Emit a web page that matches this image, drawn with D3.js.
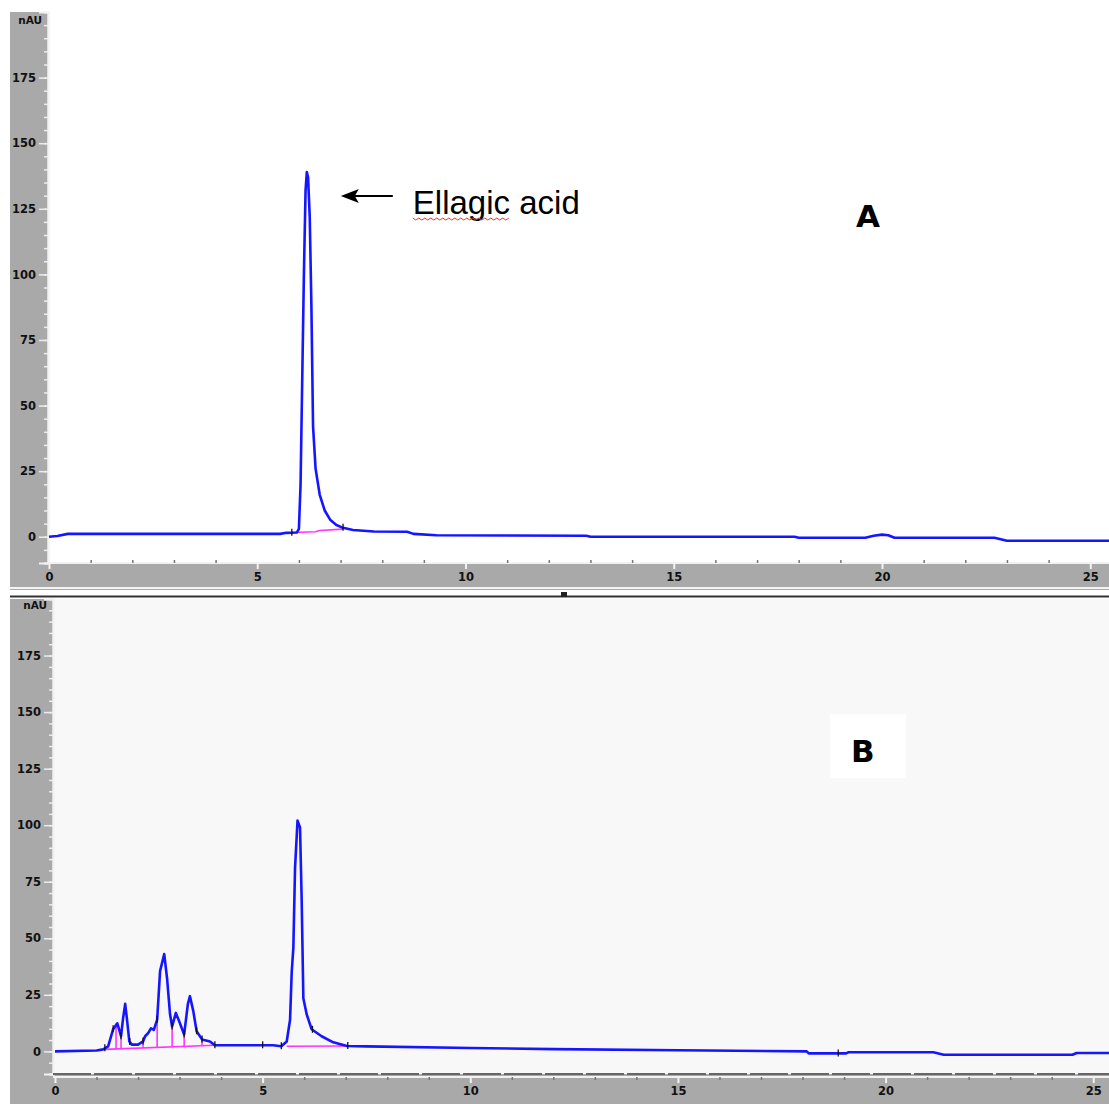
<!DOCTYPE html>
<html>
<head>
<meta charset="utf-8">
<script src="https://cdn.jsdelivr.net/npm/d3@7"></script>
<style>
  body { margin: 0; background: #fff; }
  svg { display: block; }
  .tick text { font-family: "DejaVu Sans", sans-serif; font-weight: bold; font-size: 11.5px; fill: #111; }
</style>
</head>
<body>
<svg id="chart" width="1109" height="1104"></svg>
<script>
// chromatogram A (standard) - time (min) / absorbance (mAU)
const timeA = [0, 0.2, 0.45, 5.55, 5.7, 5.95, 6.0, 6.04, 6.08, 6.12, 6.16, 6.19, 6.22, 6.26, 6.3, 6.34, 6.4, 6.5, 6.62, 6.75, 6.9, 7.06, 7.3, 7.8, 8.6, 8.75, 9.3, 12.9, 13.0, 17.9, 18.0, 19.6, 19.8, 20.0, 20.15, 20.3, 22.7, 23.0, 25.5];
const valA  = [0, 0.3, 1.1, 1.1, 1.5, 1.6, 3, 20, 60, 100, 132, 139, 137, 122, 88, 42, 26, 16, 10, 6.5, 4.5, 3.4, 2.6, 2.0, 1.9, 1.1, 0.6, 0.4, 0.0, 0.0, -0.4, -0.4, 0.4, 0.8, 0.6, -0.4, -0.4, -1.5, -1.5];
const baseTimeA = [5.83, 6.4, 6.5, 7.06];
const baseValA  = [1.6, 1.9, 2.4, 2.9];
const markA = [5.83, 7.06];

// chromatogram B (sample)
const timeB = [0, 1.0, 1.16, 1.28, 1.4, 1.5, 1.59, 1.64, 1.69, 1.73, 1.79, 1.85, 2.0, 2.12, 2.17, 2.24, 2.31, 2.38, 2.46, 2.53, 2.63, 2.7, 2.77, 2.82, 2.91, 2.99, 3.11, 3.2, 3.25, 3.33, 3.41, 3.54, 3.73, 3.85, 5.25, 5.45, 5.58, 5.66, 5.7, 5.74, 5.78, 5.84, 5.9, 5.94, 5.98, 6.06, 6.18, 6.42, 6.7, 7.03, 7.5, 10, 12, 15, 18.1, 18.15, 19.05, 19.1, 21.15, 21.4, 24.5, 24.6, 25.4];
const valB  = [0, 0.4, 0.9, 2.2, 9.8, 12.4, 6.7, 14.7, 21, 14.7, 4.4, 3, 3, 4.4, 6.7, 8, 10.2, 9.5, 14, 35.5, 43, 32, 16.4, 11, 17, 13.3, 7.5, 21, 24.4, 17.8, 8.9, 5.3, 4.4, 2.7, 2.7, 2.3, 4.4, 14, 35, 46, 81, 102, 99, 67, 23.5, 16.4, 9.8, 6.7, 4, 2.4, 2.2, 1.5, 1.0, 0.5, 0.0, -0.9, -0.9, -0.4, -0.4, -1.5, -1.5, -0.7, -0.7];
const baseTimeB1 = [1.2, 3.85];
const baseValB1  = [0.9, 2.7];
const dropB = [1.47, 1.59, 2.12, 2.46, 2.82, 3.11, 3.54];
const baseTimeB2 = [5.58, 7.05];
const baseValB2  = [2.3, 2.4];
const markB = [1.2, 1.4, 1.59, 1.8, 2.12, 2.46, 2.82, 3.11, 3.41, 3.54, 3.85, 5.0, 5.45, 6.2, 7.05, 18.86];

// axis ticks
const yTickLabels = [0, 25, 50, 75, 100, 125, 150, 175];
const yMinorTicks = d3.range(-10, 200, 5);
const xTickLabels = [0, 5, 10, 15, 20, 25];
const xMinorTicks = d3.range(0, 26, 1);

const svg = d3.select("#chart");
const gray = "#a9a9a9";
const blue = "#1515ff";
const pink = "#ff33ff";

function interp(ts, vs, t) {
    for (let i = 1; i < ts.length; i++) {
        if (t <= ts[i]) {
            const f = (t - ts[i - 1]) / (ts[i] - ts[i - 1]);
            return vs[i - 1] + f * (vs[i] - vs[i - 1]);
        }
    }
    return vs[vs.length - 1];
}

function drawPanel(p) {
    const g = svg.append("g");
    const x = d3.scaleLinear().domain([0, p.xMax]).range([p.x0, 1109]);
    const y = d3.scaleLinear().domain([-10, 200]).range([p.yBottom, p.yTop]);

    // frame
    g.append("rect").attr("x", 10).attr("y", p.yTop).attr("width", 1099).attr("height", p.bandBottom - p.yTop).attr("fill", gray);
    g.append("rect").attr("x", p.axisX).attr("y", p.yTop).attr("width", 1109 - p.axisX).attr("height", p.yBottom - p.yTop).attr("fill", p.bg);
    if (p.whiteBox) {
        g.append("rect").attr("x", p.whiteBox[0]).attr("y", p.whiteBox[1]).attr("width", p.whiteBox[2]).attr("height", p.whiteBox[3]).attr("fill", "#fff");
    }

    // y axis
    const yMinor = g.append("g").attr("transform", `translate(${p.axisX},0)`)
        .call(d3.axisLeft(y).tickValues(yMinorTicks).tickSize(4).tickFormat(""));
    const yMajor = g.append("g").attr("transform", `translate(${p.axisX},0)`)
        .call(d3.axisLeft(y).tickValues(yTickLabels).tickSize(9).tickPadding(3));
    [yMinor, yMajor].forEach(a => {
        a.select(".domain").attr("stroke", "#f2f2f2").attr("stroke-width", 2);
        a.selectAll(".tick line").attr("stroke", "#ececec").attr("stroke-width", 1.5);
    });
    g.append("text").attr("x", p.axisX - 6).attr("y", y(197)).attr("dy", "0.35em")
        .attr("text-anchor", "end").attr("font-family", "DejaVu Sans, sans-serif")
        .attr("font-weight", "bold").attr("font-size", 10.5).attr("fill", "#111").text("nAU");

    // x axis
    g.append("line").attr("x1", p.axisX).attr("x2", 1109).attr("y1", p.xLine).attr("y2", p.xLine)
        .attr("stroke", "#f2f2f2").attr("stroke-width", 2);
    if (p.darkEdge) {
        g.append("line").attr("x1", p.axisX).attr("x2", 1109).attr("y1", p.yBottom).attr("y2", p.yBottom)
            .attr("stroke", "#666").attr("stroke-width", 2).attr("stroke-dasharray", "38,3");
    }
    const xMinor = g.append("g").attr("transform", `translate(0,${p.xLine})`)
        .call(d3.axisTop(x).tickValues(xMinorTicks.filter(d => d % 5 !== 0)).tickSize(p.minorUp).tickFormat(""));
    xMinor.select(".domain").remove();
    xMinor.selectAll(".tick line").attr("stroke", "#777").attr("stroke-width", 1.5);
    const xMajor = g.append("g").attr("transform", `translate(0,${p.xLine})`)
        .call(d3.axisBottom(x).tickValues(xTickLabels).tickSize(6).tickPadding(p.labelPad));
    xMajor.select(".domain").remove();
    xMajor.selectAll(".tick line").attr("stroke", "#f2f2f2").attr("stroke-width", 2);

    // integration baselines
    const line = d3.line().x(d => x(d[0])).y(d => y(d[1]));
    p.bases.forEach(b => {
        g.append("path").datum(b[0].map((t, i) => [t, b[1][i]])).attr("d", line)
            .attr("fill", "none").attr("stroke", pink).attr("stroke-width", 1.6);
    });
    (p.drops || []).forEach(t => {
        const b = p.bases[0];
        g.append("line").attr("x1", x(t)).attr("x2", x(t))
            .attr("y1", y(interp(b[0], b[1], t))).attr("y2", y(interp(p.time, p.val, t)))
            .attr("stroke", pink).attr("stroke-width", 1.6);
    });

    // trace
    g.append("path").datum(p.time.map((t, i) => [t, p.val[i]])).attr("d", line)
        .attr("fill", "none").attr("stroke", blue).attr("stroke-width", 2.6).attr("stroke-linejoin", "round");

    // peak markers
    p.marks.forEach(t => {
        const v = y(interp(p.time, p.val, t));
        g.append("line").attr("x1", x(t)).attr("x2", x(t)).attr("y1", v - 4).attr("y2", v + 3)
            .attr("stroke", "#111").attr("stroke-width", 1.3);
    });

    // panel letter
    g.append("text").attr("x", p.letterX).attr("y", p.letterY)
        .attr("font-family", "DejaVu Sans, sans-serif").attr("font-weight", "bold")
        .attr("font-size", 31).attr("fill", "#000").text(p.letter);

    return { x, y, g };
}

const A = drawPanel({
    time: timeA, val: valA, xMax: 25.45, x0: 49, axisX: 48,
    yTop: 12, yBottom: 563, xLine: 563, bandBottom: 590, minorUp: 3, labelPad: 4,
    bg: "#ffffff", bases: [[baseTimeA, baseValA]], marks: markA,
    letter: "A", letterX: 856, letterY: 227
});

const B = drawPanel({
    time: timeB, val: valB, xMax: 25.38, x0: 55, axisX: 53,
    yTop: 599, yBottom: 1074, xLine: 1077, bandBottom: 1104, minorUp: -3, labelPad: 4, darkEdge: true,
    bg: "#f8f8f8", whiteBox: [830, 714, 76, 64], bases: [[baseTimeB1, baseValB1], [baseTimeB2, baseValB2]],
    drops: dropB, marks: markB, letter: "B", letterX: 851, letterY: 762
});

// separator between the panels
svg.append("line").attr("x1", 10).attr("x2", 1109).attr("y1", 588).attr("y2", 588).attr("stroke", "#f4f4f4").attr("stroke-width", 2);
svg.append("line").attr("x1", 10).attr("x2", 1109).attr("y1", 596.5).attr("y2", 596.5).attr("stroke", "#333").attr("stroke-width", 2);
svg.append("rect").attr("x", 561).attr("y", 592).attr("width", 6).attr("height", 5).attr("fill", "#222");

// annotation in A
const peakI = valA.indexOf(d3.max(valA));
const tipX = A.x(timeA[peakI]) + 34;
const tipY = A.y(valA[peakI]) + 24;
A.g.append("line").attr("x1", tipX + 12).attr("x2", tipX + 52).attr("y1", tipY).attr("y2", tipY)
    .attr("stroke", "#000").attr("stroke-width", 2);
A.g.append("path").attr("d", `M${tipX},${tipY} L${tipX + 18},${tipY - 7} L${tipX + 14},${tipY} L${tipX + 18},${tipY + 7} Z`)
    .attr("fill", "#000");
A.g.append("text").attr("x", tipX + 72).attr("y", tipY + 18)
    .attr("font-family", "Liberation Sans, Arial, sans-serif").attr("font-size", 33).attr("fill", "#000")
    .text("Ellagic acid");
// spell-check squiggle under "Ellagic"
const sq = [];
for (let i = 0; i <= 32; i++) sq.push([tipX + 72 + i * 3, tipY + 22 + (i % 2 ? 2 : 0)]);
A.g.append("path").attr("d", d3.line()(sq)).attr("fill", "none").attr("stroke", "#e33").attr("stroke-width", 1);
</script>
</body>
</html>
